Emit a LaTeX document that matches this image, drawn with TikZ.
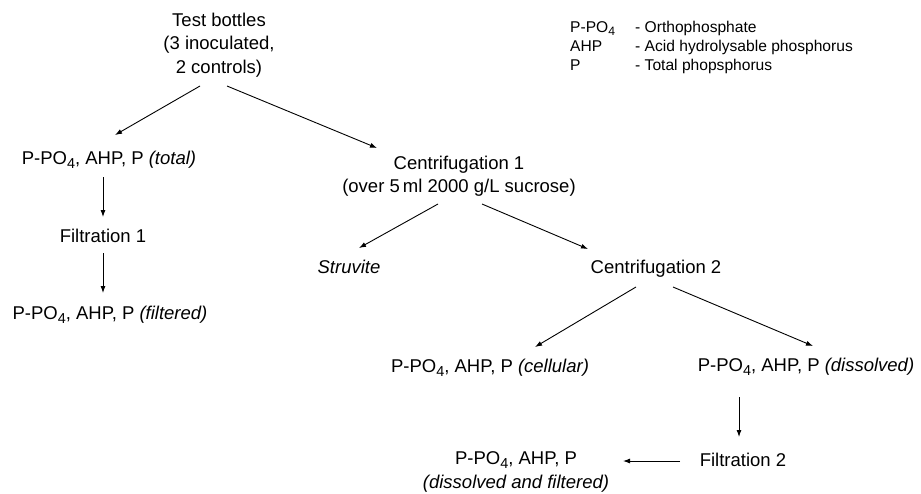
\documentclass[tikz,border=0pt]{standalone}
\usepackage{fontspec}
\setmainfont{Liberation Sans}
\usetikzlibrary{arrows.meta}
\newcommand\low[1]{\raisebox{-0.4ex}{\scalebox{0.78}{#1}}}
\newcommand\ppa{P-PO\low{4}, AHP, P}
\begin{document}
\begin{tikzpicture}[x=1pt,y=-1pt,
  stage/.style={inner sep=0pt,align=center,font=\fontsize{18.5}{23.5}\selectfont},
  key/.style={inner sep=0pt,anchor=base west,font=\fontsize{15.6}{19}\selectfont},
  flow/.style={-{Latex[length=7pt,width=5pt]},line width=0.9pt}]
\useasboundingbox (0,0) rectangle (921,493);
% legend
\node [key] (kpo)  at (570,32) {P-PO\low{4}};
\node [key] (kahp) at (570,51) {AHP};
\node [key] (kp)   at (570,70) {P};
\node [key] (dpo)  at (635,32) {- Orthophosphate};
\node [key] (dahp) at (635,51) {- Acid hydrolysable phosphorus};
\node [key] (dp)   at (635,70) {- Total phopsphorus};
% stages
\node [stage] (tb)  at (219,45)  {Test bottles\\(3 inoculated,\\2 controls)};
\node [stage] (tot) at (109,160) {\ppa{} \textit{(total)}};
\node [stage] (f1)  at (103,236) {Filtration 1};
\node [stage] (fil) at (110,315) {\ppa{} \textit{(filtered)}};
\node [stage] (c1)  at (459,176) {Centrifugation 1\\(over 5\,ml 2000 g/L sucrose)};
\node [stage] (st)  at (349,267) {\textit{Struvite}};
\node [stage] (c2)  at (656,269) {Centrifugation 2};
\node [stage] (cel) at (490,368) {\ppa{} \textit{(cellular)}};
\node [stage] (dis) at (806,367) {\ppa{} \textit{(dissolved)}};
\node [stage] (f2)  at (743,460) {Filtration 2};
\node [stage] (fin) at (516,472) {\ppa\\\textit{(dissolved and filtered)}};
% arrows
\draw [flow] ([shift={(-19,41)}]tb.center) -- ([shift={(6,-25)}]tot.center);
\draw [flow] ([shift={(8,41)}]tb.center) -- ([shift={(-82,-28)}]c1.center);
\draw [flow] ([shift={(-6,17)}]tot.center) -- ([shift={(0,-19)}]f1.center);
\draw [flow] ([shift={(0,17)}]f1.center) -- ([shift={(-7,-22)}]fil.center);
\draw [flow] ([shift={(-21,28)}]c1.center) -- ([shift={(10,-19)}]st.center);
\draw [flow] ([shift={(23,28)}]c1.center) -- ([shift={(-68,-20)}]c2.center);
\draw [flow] ([shift={(-20,18)}]c2.center) -- ([shift={(45,-21)}]cel.center);
\draw [flow] ([shift={(17,18)}]c2.center) -- ([shift={(7,-21)}]dis.center);
\draw [flow] ([shift={(-67,30)}]dis.center) -- ([shift={(-4,-23)}]f2.center);
\draw [flow] ([shift={(-63,1)}]f2.center) -- ([shift={(107,-11)}]fin.center);
\end{tikzpicture}
\end{document}
